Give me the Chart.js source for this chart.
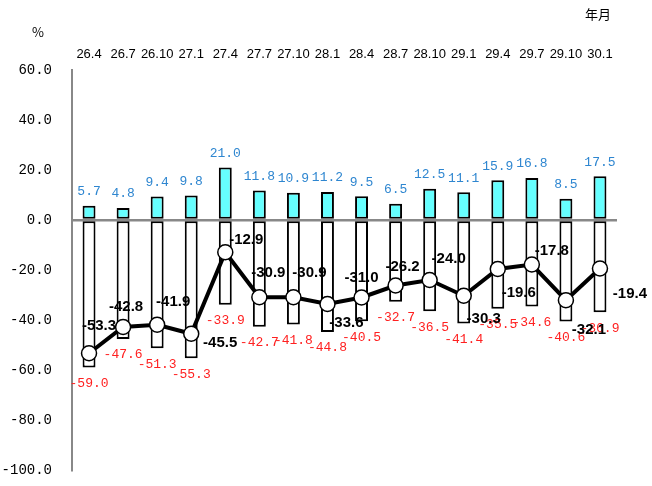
<!DOCTYPE html>
<html>
<head>
<meta charset="utf-8">
<script src="https://cdn.jsdelivr.net/npm/chart.js@4"></script>
<style>
  body { margin: 0; background: #fff; }
</style>
</head>
<body>
<canvas id="myChart" width="652" height="486"></canvas>
<script>
const labels = ['26.4', '26.7', '26.10', '27.1', '27.4', '27.7', '27.10', '28.1', '28.4', '28.7', '28.10', '29.1', '29.4', '29.7', '29.10', '30.1'];
const upValues = [5.7, 4.8, 9.4, 9.8, 21.0, 11.8, 10.9, 11.2, 9.5, 6.5, 12.5, 11.1, 15.9, 16.8, 8.5, 17.5];
const downValues = [-59.0, -47.6, -51.3, -55.3, -33.9, -42.7, -41.8, -44.8, -40.5, -32.7, -36.5, -41.4, -35.5, -34.6, -40.6, -36.9];
const diValues = [-53.3, -42.8, -41.9, -45.5, -12.9, -30.9, -30.9, -33.6, -31.0, -26.2, -24.0, -30.3, -19.6, -17.8, -32.1, -19.4];

// where each line label sits relative to its point (px)
const lineLabelShift = [[10, -27], [3, -20], [16, -23], [29, 9], [21, -12], [9, -24], [16, -24], [19, 19],
  [0, -20], [7, -19], [19, -21], [20, 23], [21, 24], [20, -14], [23, 30], [30, 25]];

const labelPlugin = {
  id: 'labelPlugin',
  afterDatasetsDraw(chart) {
    const c = chart.ctx;
    c.save();
    c.textAlign = 'center';
    c.textBaseline = 'middle';

    c.font = '13px "Liberation Mono", monospace';
    c.fillStyle = '#2E86D0';
    chart.getDatasetMeta(0).data.forEach((bar, i) => {
      c.fillText(upValues[i].toFixed(1), bar.x, bar.y - 14);
    });
    c.fillStyle = '#FF2020';
    chart.getDatasetMeta(1).data.forEach((bar, i) => {
      c.fillText(downValues[i].toFixed(1), bar.x, bar.y + 16);
    });

    c.font = 'bold 15px "Liberation Sans", Arial, sans-serif';
    c.fillStyle = '#000';
    chart.getDatasetMeta(2).data.forEach((pt, i) => {
      const s = lineLabelShift[i];
      c.fillText(diValues[i].toFixed(1), pt.x + s[0], pt.y + s[1]);
    });

    const a = chart.chartArea;
    c.font = '13px "Noto Sans CJK JP", sans-serif';
    c.fillText('%', 38, 32);
    c.fillText('年月', a.right - 19, 14);
    c.restore();
  }
};

const ctx = document.getElementById('myChart');
new Chart(ctx, {
  type: 'bar',
  data: {
    labels: labels,
    datasets: [{
      data: upValues,
      backgroundColor: '#66FFFF',
      borderColor: '#000',
      borderWidth: 2,
      borderSkipped: false,
      stack: 's',
      order: 1
    }, {
      data: downValues,
      backgroundColor: '#fff',
      borderColor: '#000',
      borderWidth: 2,
      borderSkipped: false,
      stack: 's',
      order: 1
    }, {
      type: 'line',
      data: diValues,
      borderColor: '#000',
      borderWidth: 4,
      pointRadius: 7.5,
      pointBackgroundColor: '#fff',
      pointBorderColor: '#000',
      pointBorderWidth: 1.5,
      stack: 'line',
      order: 0
    }]
  },
  options: {
    responsive: false,
    animation: false,
    layout: { padding: { left: 0, top: 0, right: 35, bottom: 16 } },
    datasets: { bar: { categoryPercentage: 1, barPercentage: 0.38 } },
    plugins: { legend: { display: false }, tooltip: { enabled: false } },
    scales: {
      x: {
        position: 'top',
        stacked: true,
        grid: { display: false, drawTicks: false },
        border: { display: false },
        ticks: {
          color: '#000',
          padding: 8,
          maxRotation: 0,
          autoSkip: false,
          font: { family: '"Liberation Sans", Arial, sans-serif', size: 13 }
        },
        afterFit(scale) { scale.height = 70; }
      },
      y: {
        stacked: true,
        min: -100,
        max: 60,
        grid: {
          tickLength: 18,
          tickColor: 'rgba(0,0,0,0)',
          color: (c) => c.tick && c.tick.value === 0 ? '#888' : 'rgba(0,0,0,0)',
          lineWidth: 2.5
        },
        border: { color: '#888', width: 2 },
        ticks: {
          stepSize: 20,
          color: '#000',
          padding: 2,
          font: { family: '"Liberation Mono", monospace', size: 14 },
          callback: (v) => v.toFixed(1)
        },
        afterFit(scale) { scale.width = 72; }
      }
    }
  },
  plugins: [labelPlugin]
});
</script>
</body>
</html>
